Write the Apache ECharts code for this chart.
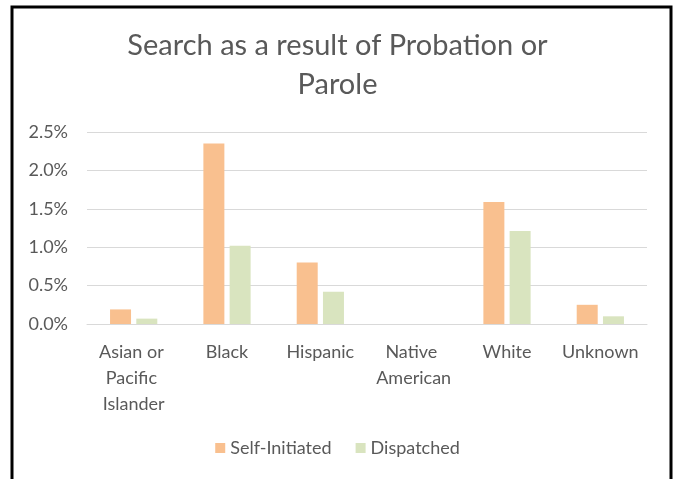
<!DOCTYPE html>
<html>
<head>
<meta charset="utf-8">
<script src="https://cdn.jsdelivr.net/npm/echarts@6/dist/echarts.min.js"></script>
<style>
  html, body { margin: 0; padding: 0; background: #fff; }
  #chart { width: 675px; height: 479px; }
</style>
</head>
<body>
<div id="chart"></div>
<script>
// data, in percent
const categories = ['Asian or Pacific Islander', 'Black', 'Hispanic', 'Native American', 'White', 'Unknown']
const selfInitiated = [0.19, 2.35, 0.80, 0, 1.59, 0.25]
const dispatched = [0.07, 1.02, 0.42, 0, 1.21, 0.10]
const yTicks = { min: 0, max: 2.5, interval: 0.5 }

const font = 'Lato'
const grey = '#595959'

let chart = echarts.init(document.getElementById('chart'))
let option = {
  textStyle: { fontFamily: font },
  title: {
    text: 'Search as a result of Probation or\nParole',
    left: 'center',
    top: 21,
    textStyle: { fontFamily: font, fontSize: 29, fontWeight: 'normal', color: grey, lineHeight: 39 }
  },
  graphic: [
    {
      type: 'rect',
      shape: { x: 12, y: 7, width: 659, height: 520 },
      style: { fill: 'none', stroke: '#000', lineWidth: 3 },
      silent: true
    }
  ],
  legend: {
    bottom: 17,
    left: 'center',
    itemWidth: 10,
    itemHeight: 10,
    itemGap: 24,
    icon: 'rect',
    textStyle: { fontFamily: font, fontSize: 18, color: grey }
  },
  grid: { left: 87, right: 28, top: 132, bottom: 155 },
  xAxis: {
    type: 'category',
    data: categories,
    axisLine: { lineStyle: { color: '#D9D9D9', width: 1 } },
    axisTick: { show: false },
    axisLabel: {
      interval: 0,
      margin: 15,
      width: 88,
      overflow: 'break',
      lineHeight: 26,
      fontFamily: font,
      fontSize: 18,
      color: grey
    }
  },
  yAxis: {
    type: 'value',
    min: yTicks.min,
    max: yTicks.max,
    interval: yTicks.interval,
    axisLine: { show: false },
    axisTick: { show: false },
    splitLine: { lineStyle: { color: '#D9D9D9', width: 1 } },
    axisLabel: {
      margin: 19,
      fontFamily: font,
      fontSize: 18,
      color: grey,
      formatter: v => v.toFixed(1) + '%'
    }
  },
  series: [
    {
      name: 'Self-Initiated',
      type: 'bar',
      data: selfInitiated,
      barWidth: 21,
      barGap: '25%',
      itemStyle: { color: '#F9C08F' }
    },
    {
      name: 'Dispatched',
      type: 'bar',
      data: dispatched,
      barWidth: 21,
      itemStyle: { color: '#D9E4BF' }
    }
  ]
}
option && chart.setOption(option)
</script>
</body>
</html>
